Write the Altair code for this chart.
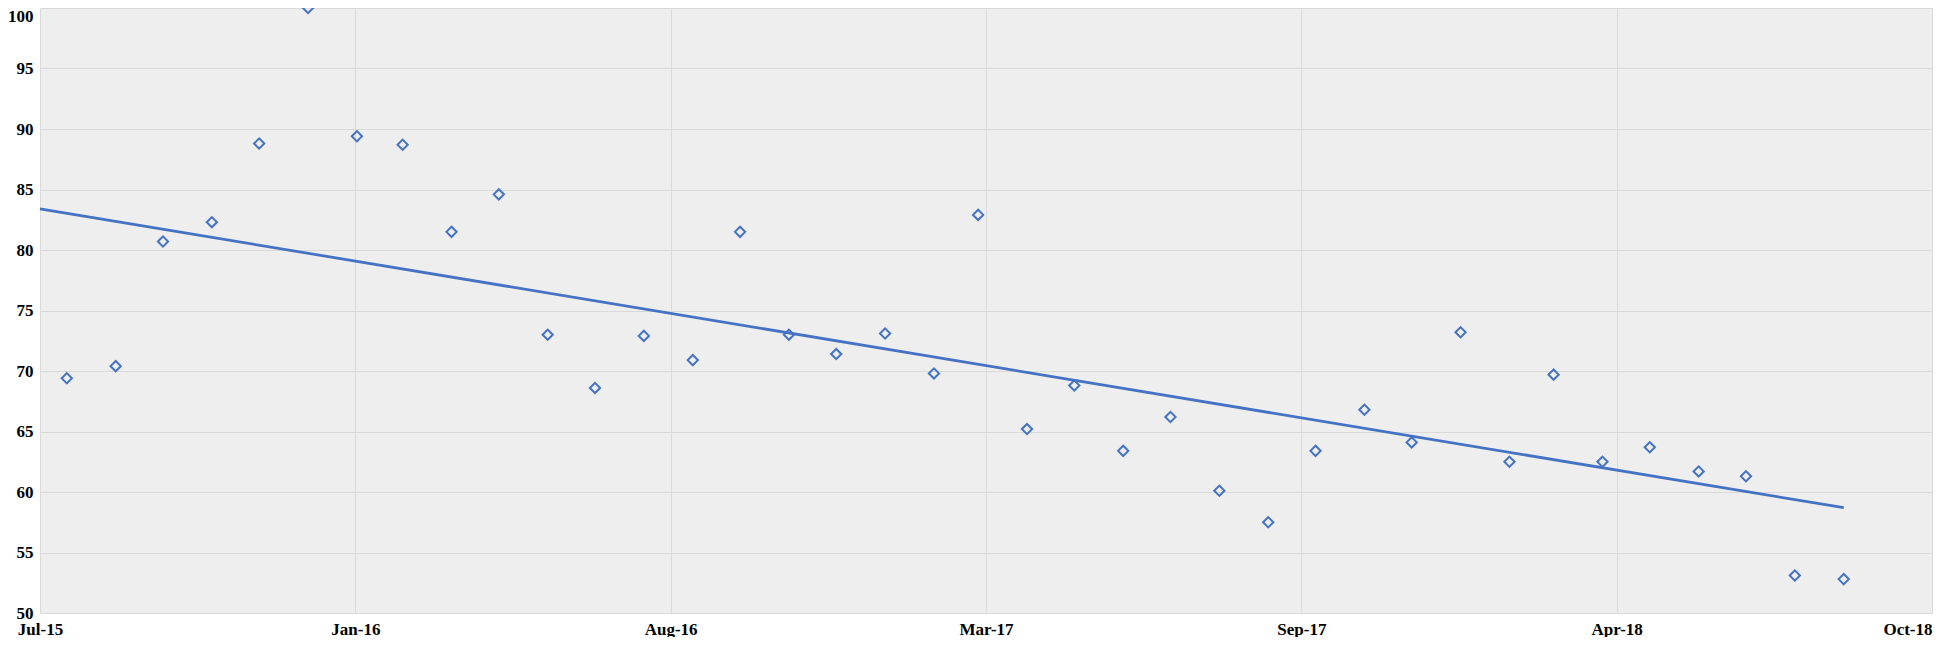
import altair as alt
import pandas as pd

# Monthly observations (first of each month)
months = [
    "2015-08-01", "2015-09-01", "2015-10-01", "2015-11-01", "2015-12-01",
    "2016-01-01", "2016-02-01", "2016-03-01", "2016-04-01", "2016-05-01",
    "2016-06-01", "2016-07-01", "2016-08-01", "2016-09-01", "2016-10-01",
    "2016-11-01", "2016-12-01", "2017-01-01", "2017-02-01", "2017-03-01",
    "2017-04-01", "2017-05-01", "2017-06-01", "2017-07-01", "2017-08-01",
    "2017-09-01", "2017-10-01", "2017-11-01", "2017-12-01", "2018-01-01",
    "2018-02-01", "2018-03-01", "2018-04-01", "2018-05-01", "2018-06-01",
    "2018-07-01", "2018-08-01", "2018-09-01",
]
values = [
    69.4, 70.4, 80.7, 82.3, 88.8,
    100.0, 89.4, 88.7, 81.5, 84.6,
    73.0, 68.6, 72.9, 70.9, 81.5,
    73.0, 71.4, 73.1, 69.8, 82.9,
    65.2, 68.8, 63.4, 66.2, 60.1,
    57.5, 63.4, 66.8, 64.1, 73.2,
    62.5, 69.7, 62.5, 63.7, 61.7,
    61.3, 53.1, 52.8,
]

# Linear trendline end points
trend_dates = ["2015-07-15", "2018-09-01"]
trend_values = [83.4, 58.7]

# Axis: tick dates (200-day major unit) and value ticks
tick_dates = ["2015-07-15", "2016-01-31", "2016-08-18", "2017-03-06",
              "2017-09-22", "2018-04-10", "2018-10-27"]
y_ticks = [50, 55, 60, 65, 70, 75, 80, 85, 90, 95, 100]

def to_ms(s):
    return int((pd.Timestamp(s) - pd.Timestamp("1970-01-01")) // pd.Timedelta(milliseconds=1))

df = pd.DataFrame({"t": [to_ms(m) for m in months], "value": values})
df_trend = pd.DataFrame({"t": [to_ms(d) for d in trend_dates], "value": trend_values})
tick_ms = [to_ms(d) for d in tick_dates]

BLUE = "#4472C4"
FONT = "Liberation Serif"

x_enc = alt.X(
    "t:T",
    scale=alt.Scale(type="utc", domain=[tick_ms[0], tick_ms[-1]]),
    axis=alt.Axis(
        values=tick_ms, format="%b-%y", title=None, domain=False, ticks=False,
        labelPadding=8, labelFont=FONT, labelFontSize=17, labelFontWeight="bold",
        labelColor="#000000", grid=True, gridColor="#d9d9d9", gridWidth=1,
        labelFlush=False, labelOverlap=False,
        labelAlign={"condition": {"test": f"datum.value >= {tick_ms[-1]}", "value": "right"},
                    "value": "center"},
    ),
)
y_enc = alt.Y(
    "value:Q",
    scale=alt.Scale(domain=[50, 100], nice=False, zero=False),
    axis=alt.Axis(
        values=y_ticks, title=None, domain=False, ticks=False,
        labelPadding=7, labelFont=FONT, labelFontSize=17, labelFontWeight="bold",
        labelColor="#000000", grid=True, gridColor="#d9d9d9", gridWidth=1,
        labelBaseline={"condition": {"test": "datum.value == 100", "value": "top"},
                       "value": "middle"},
    ),
)

points = alt.Chart(df).mark_point(
    shape="diamond", filled=False, color=BLUE, size=105, strokeWidth=2, opacity=1
).encode(x=x_enc, y=y_enc)

trend = alt.Chart(df_trend).mark_line(color=BLUE, strokeWidth=2.75).encode(x=x_enc, y=y_enc)

chart = alt.layer(trend, points).properties(
    width=1892, height=605,
    autosize=alt.AutoSizeParams(type="none"),
    padding={"left": 32, "top": 0, "right": 20, "bottom": 24},
    background="#ffffff",
).configure_view(fill="#eeeeee", stroke=None)

chart.save("out.html", embed_options={"renderer": "svg", "actions": False})
